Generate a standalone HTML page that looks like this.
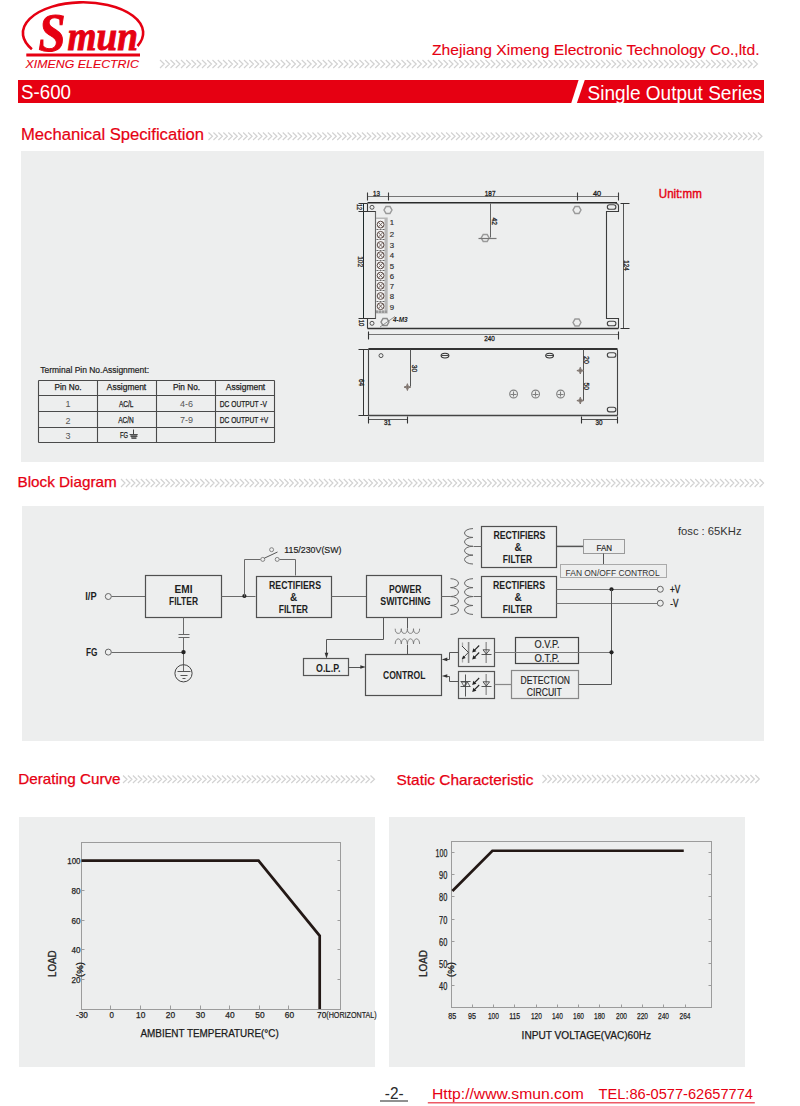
<!DOCTYPE html>
<html><head><meta charset="utf-8"><style>
html,body{margin:0;padding:0;background:#fff;width:800px;height:1106px;overflow:hidden}
svg{display:block}
</style></head><body>
<svg width="800" height="1106" viewBox="0 0 800 1106" font-family="Liberation Sans, sans-serif">
<rect x="21" y="151" width="743" height="311" fill="#edeeee"/>
<rect x="22" y="506" width="742" height="235" fill="#edeeee"/>
<rect x="19" y="817" width="356" height="250" fill="#edeeee"/>
<rect x="389" y="817" width="356" height="250" fill="#edeeee"/>
<path d="M31.9 49.15A60.15 30.7 0 1 1 137.5 46" fill="none" stroke="#e60012" stroke-width="2.6"/>
<text x="38.5" y="50.8" font-size="54" fill="#e60012" text-anchor="start" font-weight="bold" font-style="italic" font-family="Liberation Serif" textLength="27" lengthAdjust="spacingAndGlyphs" stroke="#e60012" stroke-width="1.0" >S</text>
<text x="67.5" y="50.3" font-size="42" fill="#e60012" text-anchor="start" font-weight="bold" font-style="italic" font-family="Liberation Serif" textLength="70.5" lengthAdjust="spacingAndGlyphs" stroke="#e60012" stroke-width="0.9" >mun</text>
<rect x="26.3" y="53.5" width="113.7" height="3" fill="#e60012"/>
<text x="25.6" y="68.1" font-size="11.6" fill="#e60012" text-anchor="start" font-weight="normal" font-style="italic" font-family="Liberation Sans" textLength="113.3" lengthAdjust="spacingAndGlyphs" stroke="#e60012" stroke-width="0.1" >XIMENG ELECTRIC</text>
<text x="432" y="54.9" font-size="15" fill="#e60012" text-anchor="start" font-weight="normal" font-style="normal" font-family="Liberation Sans" textLength="327.5" lengthAdjust="spacingAndGlyphs" stroke="#e60012" stroke-width="0.12" >Zhejiang Ximeng Electronic Technology Co.,ltd.</text>
<path d="M160.00 60.00L164.20 64.00L160.00 68.00M165.25 60.00L169.45 64.00L165.25 68.00M170.50 60.00L174.70 64.00L170.50 68.00M175.75 60.00L179.95 64.00L175.75 68.00M181.00 60.00L185.20 64.00L181.00 68.00M186.25 60.00L190.45 64.00L186.25 68.00M191.50 60.00L195.70 64.00L191.50 68.00M196.75 60.00L200.95 64.00L196.75 68.00M202.00 60.00L206.20 64.00L202.00 68.00M207.25 60.00L211.45 64.00L207.25 68.00M212.50 60.00L216.70 64.00L212.50 68.00M217.75 60.00L221.95 64.00L217.75 68.00M223.00 60.00L227.20 64.00L223.00 68.00M228.25 60.00L232.45 64.00L228.25 68.00M233.50 60.00L237.70 64.00L233.50 68.00M238.75 60.00L242.95 64.00L238.75 68.00M244.00 60.00L248.20 64.00L244.00 68.00M249.25 60.00L253.45 64.00L249.25 68.00M254.50 60.00L258.70 64.00L254.50 68.00M259.75 60.00L263.95 64.00L259.75 68.00M265.00 60.00L269.20 64.00L265.00 68.00M270.25 60.00L274.45 64.00L270.25 68.00M275.50 60.00L279.70 64.00L275.50 68.00M280.75 60.00L284.95 64.00L280.75 68.00M286.00 60.00L290.20 64.00L286.00 68.00M291.25 60.00L295.45 64.00L291.25 68.00M296.50 60.00L300.70 64.00L296.50 68.00M301.75 60.00L305.95 64.00L301.75 68.00M307.00 60.00L311.20 64.00L307.00 68.00M312.25 60.00L316.45 64.00L312.25 68.00M317.50 60.00L321.70 64.00L317.50 68.00M322.75 60.00L326.95 64.00L322.75 68.00M328.00 60.00L332.20 64.00L328.00 68.00M333.25 60.00L337.45 64.00L333.25 68.00M338.50 60.00L342.70 64.00L338.50 68.00M343.75 60.00L347.95 64.00L343.75 68.00M349.00 60.00L353.20 64.00L349.00 68.00M354.25 60.00L358.45 64.00L354.25 68.00M359.50 60.00L363.70 64.00L359.50 68.00M364.75 60.00L368.95 64.00L364.75 68.00M370.00 60.00L374.20 64.00L370.00 68.00M375.25 60.00L379.45 64.00L375.25 68.00M380.50 60.00L384.70 64.00L380.50 68.00M385.75 60.00L389.95 64.00L385.75 68.00M391.00 60.00L395.20 64.00L391.00 68.00M396.25 60.00L400.45 64.00L396.25 68.00M401.50 60.00L405.70 64.00L401.50 68.00M406.75 60.00L410.95 64.00L406.75 68.00M412.00 60.00L416.20 64.00L412.00 68.00M417.25 60.00L421.45 64.00L417.25 68.00M422.50 60.00L426.70 64.00L422.50 68.00M427.75 60.00L431.95 64.00L427.75 68.00M433.00 60.00L437.20 64.00L433.00 68.00M438.25 60.00L442.45 64.00L438.25 68.00M443.50 60.00L447.70 64.00L443.50 68.00M448.75 60.00L452.95 64.00L448.75 68.00M454.00 60.00L458.20 64.00L454.00 68.00M459.25 60.00L463.45 64.00L459.25 68.00M464.50 60.00L468.70 64.00L464.50 68.00M469.75 60.00L473.95 64.00L469.75 68.00M475.00 60.00L479.20 64.00L475.00 68.00M480.25 60.00L484.45 64.00L480.25 68.00M485.50 60.00L489.70 64.00L485.50 68.00M490.75 60.00L494.95 64.00L490.75 68.00M496.00 60.00L500.20 64.00L496.00 68.00M501.25 60.00L505.45 64.00L501.25 68.00M506.50 60.00L510.70 64.00L506.50 68.00M511.75 60.00L515.95 64.00L511.75 68.00M517.00 60.00L521.20 64.00L517.00 68.00M522.25 60.00L526.45 64.00L522.25 68.00M527.50 60.00L531.70 64.00L527.50 68.00M532.75 60.00L536.95 64.00L532.75 68.00M538.00 60.00L542.20 64.00L538.00 68.00M543.25 60.00L547.45 64.00L543.25 68.00M548.50 60.00L552.70 64.00L548.50 68.00M553.75 60.00L557.95 64.00L553.75 68.00M559.00 60.00L563.20 64.00L559.00 68.00M564.25 60.00L568.45 64.00L564.25 68.00M569.50 60.00L573.70 64.00L569.50 68.00M574.75 60.00L578.95 64.00L574.75 68.00M580.00 60.00L584.20 64.00L580.00 68.00M585.25 60.00L589.45 64.00L585.25 68.00M590.50 60.00L594.70 64.00L590.50 68.00M595.75 60.00L599.95 64.00L595.75 68.00M601.00 60.00L605.20 64.00L601.00 68.00M606.25 60.00L610.45 64.00L606.25 68.00M611.50 60.00L615.70 64.00L611.50 68.00M616.75 60.00L620.95 64.00L616.75 68.00M622.00 60.00L626.20 64.00L622.00 68.00M627.25 60.00L631.45 64.00L627.25 68.00M632.50 60.00L636.70 64.00L632.50 68.00M637.75 60.00L641.95 64.00L637.75 68.00M643.00 60.00L647.20 64.00L643.00 68.00M648.25 60.00L652.45 64.00L648.25 68.00M653.50 60.00L657.70 64.00L653.50 68.00M658.75 60.00L662.95 64.00L658.75 68.00M664.00 60.00L668.20 64.00L664.00 68.00M669.25 60.00L673.45 64.00L669.25 68.00M674.50 60.00L678.70 64.00L674.50 68.00M679.75 60.00L683.95 64.00L679.75 68.00M685.00 60.00L689.20 64.00L685.00 68.00M690.25 60.00L694.45 64.00L690.25 68.00M695.50 60.00L699.70 64.00L695.50 68.00M700.75 60.00L704.95 64.00L700.75 68.00M706.00 60.00L710.20 64.00L706.00 68.00M711.25 60.00L715.45 64.00L711.25 68.00M716.50 60.00L720.70 64.00L716.50 68.00M721.75 60.00L725.95 64.00L721.75 68.00M727.00 60.00L731.20 64.00L727.00 68.00M732.25 60.00L736.45 64.00L732.25 68.00M737.50 60.00L741.70 64.00L737.50 68.00M742.75 60.00L746.95 64.00L742.75 68.00M748.00 60.00L752.20 64.00L748.00 68.00M753.25 60.00L757.45 64.00L753.25 68.00" stroke="#d2d2d2" stroke-width="1.2" fill="none"/>
<path d="M18 80H578.6L571.25 103H18Z" fill="#e60012"/>
<path d="M584.75 80H764V103H576.9Z" fill="#e60012"/>
<text x="21" y="98.6" font-size="19.8" fill="#fff" text-anchor="start" font-weight="normal" font-style="normal" font-family="Liberation Sans" textLength="50" lengthAdjust="spacingAndGlyphs" >S-600</text>
<text x="587.6" y="99.8" font-size="19.8" fill="#fff" text-anchor="start" font-weight="normal" font-style="normal" font-family="Liberation Sans" textLength="174.5" lengthAdjust="spacingAndGlyphs" >Single Output Series</text>
<text x="21" y="140" font-size="16.3" fill="#e60012" text-anchor="start" font-weight="normal" font-style="normal" font-family="Liberation Sans" textLength="183" lengthAdjust="spacingAndGlyphs" stroke="#e60012" stroke-width="0.2" >Mechanical Specification</text>
<path d="M208.50 132.50L212.50 136.25L208.50 140.00M213.45 132.50L217.45 136.25L213.45 140.00M218.40 132.50L222.40 136.25L218.40 140.00M223.35 132.50L227.35 136.25L223.35 140.00M228.30 132.50L232.30 136.25L228.30 140.00M233.25 132.50L237.25 136.25L233.25 140.00M238.20 132.50L242.20 136.25L238.20 140.00M243.15 132.50L247.15 136.25L243.15 140.00M248.10 132.50L252.10 136.25L248.10 140.00M253.05 132.50L257.05 136.25L253.05 140.00M258.00 132.50L262.00 136.25L258.00 140.00M262.95 132.50L266.95 136.25L262.95 140.00M267.90 132.50L271.90 136.25L267.90 140.00M272.85 132.50L276.85 136.25L272.85 140.00M277.80 132.50L281.80 136.25L277.80 140.00M282.75 132.50L286.75 136.25L282.75 140.00M287.70 132.50L291.70 136.25L287.70 140.00M292.65 132.50L296.65 136.25L292.65 140.00M297.60 132.50L301.60 136.25L297.60 140.00M302.55 132.50L306.55 136.25L302.55 140.00M307.50 132.50L311.50 136.25L307.50 140.00M312.45 132.50L316.45 136.25L312.45 140.00M317.40 132.50L321.40 136.25L317.40 140.00M322.35 132.50L326.35 136.25L322.35 140.00M327.30 132.50L331.30 136.25L327.30 140.00M332.25 132.50L336.25 136.25L332.25 140.00M337.20 132.50L341.20 136.25L337.20 140.00M342.15 132.50L346.15 136.25L342.15 140.00M347.10 132.50L351.10 136.25L347.10 140.00M352.05 132.50L356.05 136.25L352.05 140.00M357.00 132.50L361.00 136.25L357.00 140.00M361.95 132.50L365.95 136.25L361.95 140.00M366.90 132.50L370.90 136.25L366.90 140.00M371.85 132.50L375.85 136.25L371.85 140.00M376.80 132.50L380.80 136.25L376.80 140.00M381.75 132.50L385.75 136.25L381.75 140.00M386.70 132.50L390.70 136.25L386.70 140.00M391.65 132.50L395.65 136.25L391.65 140.00M396.60 132.50L400.60 136.25L396.60 140.00M401.55 132.50L405.55 136.25L401.55 140.00M406.50 132.50L410.50 136.25L406.50 140.00M411.45 132.50L415.45 136.25L411.45 140.00M416.40 132.50L420.40 136.25L416.40 140.00M421.35 132.50L425.35 136.25L421.35 140.00M426.30 132.50L430.30 136.25L426.30 140.00M431.25 132.50L435.25 136.25L431.25 140.00M436.20 132.50L440.20 136.25L436.20 140.00M441.15 132.50L445.15 136.25L441.15 140.00M446.10 132.50L450.10 136.25L446.10 140.00M451.05 132.50L455.05 136.25L451.05 140.00M456.00 132.50L460.00 136.25L456.00 140.00M460.95 132.50L464.95 136.25L460.95 140.00M465.90 132.50L469.90 136.25L465.90 140.00M470.85 132.50L474.85 136.25L470.85 140.00M475.80 132.50L479.80 136.25L475.80 140.00M480.75 132.50L484.75 136.25L480.75 140.00M485.70 132.50L489.70 136.25L485.70 140.00M490.65 132.50L494.65 136.25L490.65 140.00M495.60 132.50L499.60 136.25L495.60 140.00M500.55 132.50L504.55 136.25L500.55 140.00M505.50 132.50L509.50 136.25L505.50 140.00M510.45 132.50L514.45 136.25L510.45 140.00M515.40 132.50L519.40 136.25L515.40 140.00M520.35 132.50L524.35 136.25L520.35 140.00M525.30 132.50L529.30 136.25L525.30 140.00M530.25 132.50L534.25 136.25L530.25 140.00M535.20 132.50L539.20 136.25L535.20 140.00M540.15 132.50L544.15 136.25L540.15 140.00M545.10 132.50L549.10 136.25L545.10 140.00M550.05 132.50L554.05 136.25L550.05 140.00M555.00 132.50L559.00 136.25L555.00 140.00M559.95 132.50L563.95 136.25L559.95 140.00M564.90 132.50L568.90 136.25L564.90 140.00M569.85 132.50L573.85 136.25L569.85 140.00M574.80 132.50L578.80 136.25L574.80 140.00M579.75 132.50L583.75 136.25L579.75 140.00M584.70 132.50L588.70 136.25L584.70 140.00M589.65 132.50L593.65 136.25L589.65 140.00M594.60 132.50L598.60 136.25L594.60 140.00M599.55 132.50L603.55 136.25L599.55 140.00M604.50 132.50L608.50 136.25L604.50 140.00M609.45 132.50L613.45 136.25L609.45 140.00M614.40 132.50L618.40 136.25L614.40 140.00M619.35 132.50L623.35 136.25L619.35 140.00M624.30 132.50L628.30 136.25L624.30 140.00M629.25 132.50L633.25 136.25L629.25 140.00M634.20 132.50L638.20 136.25L634.20 140.00M639.15 132.50L643.15 136.25L639.15 140.00M644.10 132.50L648.10 136.25L644.10 140.00M649.05 132.50L653.05 136.25L649.05 140.00M654.00 132.50L658.00 136.25L654.00 140.00M658.95 132.50L662.95 136.25L658.95 140.00M663.90 132.50L667.90 136.25L663.90 140.00M668.85 132.50L672.85 136.25L668.85 140.00M673.80 132.50L677.80 136.25L673.80 140.00M678.75 132.50L682.75 136.25L678.75 140.00M683.70 132.50L687.70 136.25L683.70 140.00M688.65 132.50L692.65 136.25L688.65 140.00M693.60 132.50L697.60 136.25L693.60 140.00M698.55 132.50L702.55 136.25L698.55 140.00M703.50 132.50L707.50 136.25L703.50 140.00M708.45 132.50L712.45 136.25L708.45 140.00M713.40 132.50L717.40 136.25L713.40 140.00M718.35 132.50L722.35 136.25L718.35 140.00M723.30 132.50L727.30 136.25L723.30 140.00M728.25 132.50L732.25 136.25L728.25 140.00M733.20 132.50L737.20 136.25L733.20 140.00M738.15 132.50L742.15 136.25L738.15 140.00M743.10 132.50L747.10 136.25L743.10 140.00M748.05 132.50L752.05 136.25L748.05 140.00M753.00 132.50L757.00 136.25L753.00 140.00M757.95 132.50L761.95 136.25L757.95 140.00" stroke="#d2d2d2" stroke-width="1.2" fill="none"/>
<text x="17.5" y="486.9" font-size="14.5" fill="#e60012" text-anchor="start" font-weight="normal" font-style="normal" font-family="Liberation Sans" textLength="99.2" lengthAdjust="spacingAndGlyphs" stroke="#e60012" stroke-width="0.25" >Block Diagram</text>
<path d="M121.00 479.00L125.00 483.00L121.00 487.00M125.95 479.00L129.95 483.00L125.95 487.00M130.90 479.00L134.90 483.00L130.90 487.00M135.85 479.00L139.85 483.00L135.85 487.00M140.80 479.00L144.80 483.00L140.80 487.00M145.75 479.00L149.75 483.00L145.75 487.00M150.70 479.00L154.70 483.00L150.70 487.00M155.65 479.00L159.65 483.00L155.65 487.00M160.60 479.00L164.60 483.00L160.60 487.00M165.55 479.00L169.55 483.00L165.55 487.00M170.50 479.00L174.50 483.00L170.50 487.00M175.45 479.00L179.45 483.00L175.45 487.00M180.40 479.00L184.40 483.00L180.40 487.00M185.35 479.00L189.35 483.00L185.35 487.00M190.30 479.00L194.30 483.00L190.30 487.00M195.25 479.00L199.25 483.00L195.25 487.00M200.20 479.00L204.20 483.00L200.20 487.00M205.15 479.00L209.15 483.00L205.15 487.00M210.10 479.00L214.10 483.00L210.10 487.00M215.05 479.00L219.05 483.00L215.05 487.00M220.00 479.00L224.00 483.00L220.00 487.00M224.95 479.00L228.95 483.00L224.95 487.00M229.90 479.00L233.90 483.00L229.90 487.00M234.85 479.00L238.85 483.00L234.85 487.00M239.80 479.00L243.80 483.00L239.80 487.00M244.75 479.00L248.75 483.00L244.75 487.00M249.70 479.00L253.70 483.00L249.70 487.00M254.65 479.00L258.65 483.00L254.65 487.00M259.60 479.00L263.60 483.00L259.60 487.00M264.55 479.00L268.55 483.00L264.55 487.00M269.50 479.00L273.50 483.00L269.50 487.00M274.45 479.00L278.45 483.00L274.45 487.00M279.40 479.00L283.40 483.00L279.40 487.00M284.35 479.00L288.35 483.00L284.35 487.00M289.30 479.00L293.30 483.00L289.30 487.00M294.25 479.00L298.25 483.00L294.25 487.00M299.20 479.00L303.20 483.00L299.20 487.00M304.15 479.00L308.15 483.00L304.15 487.00M309.10 479.00L313.10 483.00L309.10 487.00M314.05 479.00L318.05 483.00L314.05 487.00M319.00 479.00L323.00 483.00L319.00 487.00M323.95 479.00L327.95 483.00L323.95 487.00M328.90 479.00L332.90 483.00L328.90 487.00M333.85 479.00L337.85 483.00L333.85 487.00M338.80 479.00L342.80 483.00L338.80 487.00M343.75 479.00L347.75 483.00L343.75 487.00M348.70 479.00L352.70 483.00L348.70 487.00M353.65 479.00L357.65 483.00L353.65 487.00M358.60 479.00L362.60 483.00L358.60 487.00M363.55 479.00L367.55 483.00L363.55 487.00M368.50 479.00L372.50 483.00L368.50 487.00M373.45 479.00L377.45 483.00L373.45 487.00M378.40 479.00L382.40 483.00L378.40 487.00M383.35 479.00L387.35 483.00L383.35 487.00M388.30 479.00L392.30 483.00L388.30 487.00M393.25 479.00L397.25 483.00L393.25 487.00M398.20 479.00L402.20 483.00L398.20 487.00M403.15 479.00L407.15 483.00L403.15 487.00M408.10 479.00L412.10 483.00L408.10 487.00M413.05 479.00L417.05 483.00L413.05 487.00M418.00 479.00L422.00 483.00L418.00 487.00M422.95 479.00L426.95 483.00L422.95 487.00M427.90 479.00L431.90 483.00L427.90 487.00M432.85 479.00L436.85 483.00L432.85 487.00M437.80 479.00L441.80 483.00L437.80 487.00M442.75 479.00L446.75 483.00L442.75 487.00M447.70 479.00L451.70 483.00L447.70 487.00M452.65 479.00L456.65 483.00L452.65 487.00M457.60 479.00L461.60 483.00L457.60 487.00M462.55 479.00L466.55 483.00L462.55 487.00M467.50 479.00L471.50 483.00L467.50 487.00M472.45 479.00L476.45 483.00L472.45 487.00M477.40 479.00L481.40 483.00L477.40 487.00M482.35 479.00L486.35 483.00L482.35 487.00M487.30 479.00L491.30 483.00L487.30 487.00M492.25 479.00L496.25 483.00L492.25 487.00M497.20 479.00L501.20 483.00L497.20 487.00M502.15 479.00L506.15 483.00L502.15 487.00M507.10 479.00L511.10 483.00L507.10 487.00M512.05 479.00L516.05 483.00L512.05 487.00M517.00 479.00L521.00 483.00L517.00 487.00M521.95 479.00L525.95 483.00L521.95 487.00M526.90 479.00L530.90 483.00L526.90 487.00M531.85 479.00L535.85 483.00L531.85 487.00M536.80 479.00L540.80 483.00L536.80 487.00M541.75 479.00L545.75 483.00L541.75 487.00M546.70 479.00L550.70 483.00L546.70 487.00M551.65 479.00L555.65 483.00L551.65 487.00M556.60 479.00L560.60 483.00L556.60 487.00M561.55 479.00L565.55 483.00L561.55 487.00M566.50 479.00L570.50 483.00L566.50 487.00M571.45 479.00L575.45 483.00L571.45 487.00M576.40 479.00L580.40 483.00L576.40 487.00M581.35 479.00L585.35 483.00L581.35 487.00M586.30 479.00L590.30 483.00L586.30 487.00M591.25 479.00L595.25 483.00L591.25 487.00M596.20 479.00L600.20 483.00L596.20 487.00M601.15 479.00L605.15 483.00L601.15 487.00M606.10 479.00L610.10 483.00L606.10 487.00M611.05 479.00L615.05 483.00L611.05 487.00M616.00 479.00L620.00 483.00L616.00 487.00M620.95 479.00L624.95 483.00L620.95 487.00M625.90 479.00L629.90 483.00L625.90 487.00M630.85 479.00L634.85 483.00L630.85 487.00M635.80 479.00L639.80 483.00L635.80 487.00M640.75 479.00L644.75 483.00L640.75 487.00M645.70 479.00L649.70 483.00L645.70 487.00M650.65 479.00L654.65 483.00L650.65 487.00M655.60 479.00L659.60 483.00L655.60 487.00M660.55 479.00L664.55 483.00L660.55 487.00M665.50 479.00L669.50 483.00L665.50 487.00M670.45 479.00L674.45 483.00L670.45 487.00M675.40 479.00L679.40 483.00L675.40 487.00M680.35 479.00L684.35 483.00L680.35 487.00M685.30 479.00L689.30 483.00L685.30 487.00M690.25 479.00L694.25 483.00L690.25 487.00M695.20 479.00L699.20 483.00L695.20 487.00M700.15 479.00L704.15 483.00L700.15 487.00M705.10 479.00L709.10 483.00L705.10 487.00M710.05 479.00L714.05 483.00L710.05 487.00M715.00 479.00L719.00 483.00L715.00 487.00M719.95 479.00L723.95 483.00L719.95 487.00M724.90 479.00L728.90 483.00L724.90 487.00M729.85 479.00L733.85 483.00L729.85 487.00M734.80 479.00L738.80 483.00L734.80 487.00M739.75 479.00L743.75 483.00L739.75 487.00M744.70 479.00L748.70 483.00L744.70 487.00M749.65 479.00L753.65 483.00L749.65 487.00M754.60 479.00L758.60 483.00L754.60 487.00M759.55 479.00L763.55 483.00L759.55 487.00" stroke="#d2d2d2" stroke-width="1.2" fill="none"/>
<text x="18.2" y="784.4" font-size="14.5" fill="#e60012" text-anchor="start" font-weight="normal" font-style="normal" font-family="Liberation Sans" textLength="102.4" lengthAdjust="spacingAndGlyphs" stroke="#e60012" stroke-width="0.25" >Derating Curve</text>
<path d="M123.00 775.50L127.00 779.25L123.00 783.00M127.95 775.50L131.95 779.25L127.95 783.00M132.90 775.50L136.90 779.25L132.90 783.00M137.85 775.50L141.85 779.25L137.85 783.00M142.80 775.50L146.80 779.25L142.80 783.00M147.75 775.50L151.75 779.25L147.75 783.00M152.70 775.50L156.70 779.25L152.70 783.00M157.65 775.50L161.65 779.25L157.65 783.00M162.60 775.50L166.60 779.25L162.60 783.00M167.55 775.50L171.55 779.25L167.55 783.00M172.50 775.50L176.50 779.25L172.50 783.00M177.45 775.50L181.45 779.25L177.45 783.00M182.40 775.50L186.40 779.25L182.40 783.00M187.35 775.50L191.35 779.25L187.35 783.00M192.30 775.50L196.30 779.25L192.30 783.00M197.25 775.50L201.25 779.25L197.25 783.00M202.20 775.50L206.20 779.25L202.20 783.00M207.15 775.50L211.15 779.25L207.15 783.00M212.10 775.50L216.10 779.25L212.10 783.00M217.05 775.50L221.05 779.25L217.05 783.00M222.00 775.50L226.00 779.25L222.00 783.00M226.95 775.50L230.95 779.25L226.95 783.00M231.90 775.50L235.90 779.25L231.90 783.00M236.85 775.50L240.85 779.25L236.85 783.00M241.80 775.50L245.80 779.25L241.80 783.00M246.75 775.50L250.75 779.25L246.75 783.00M251.70 775.50L255.70 779.25L251.70 783.00M256.65 775.50L260.65 779.25L256.65 783.00M261.60 775.50L265.60 779.25L261.60 783.00M266.55 775.50L270.55 779.25L266.55 783.00M271.50 775.50L275.50 779.25L271.50 783.00M276.45 775.50L280.45 779.25L276.45 783.00M281.40 775.50L285.40 779.25L281.40 783.00M286.35 775.50L290.35 779.25L286.35 783.00M291.30 775.50L295.30 779.25L291.30 783.00M296.25 775.50L300.25 779.25L296.25 783.00M301.20 775.50L305.20 779.25L301.20 783.00M306.15 775.50L310.15 779.25L306.15 783.00M311.10 775.50L315.10 779.25L311.10 783.00M316.05 775.50L320.05 779.25L316.05 783.00M321.00 775.50L325.00 779.25L321.00 783.00M325.95 775.50L329.95 779.25L325.95 783.00M330.90 775.50L334.90 779.25L330.90 783.00M335.85 775.50L339.85 779.25L335.85 783.00M340.80 775.50L344.80 779.25L340.80 783.00M345.75 775.50L349.75 779.25L345.75 783.00M350.70 775.50L354.70 779.25L350.70 783.00M355.65 775.50L359.65 779.25L355.65 783.00M360.60 775.50L364.60 779.25L360.60 783.00M365.55 775.50L369.55 779.25L365.55 783.00M370.50 775.50L374.50 779.25L370.50 783.00" stroke="#d2d2d2" stroke-width="1.2" fill="none"/>
<text x="396.5" y="785" font-size="15" fill="#e60012" text-anchor="start" font-weight="normal" font-style="normal" font-family="Liberation Sans" textLength="137" lengthAdjust="spacingAndGlyphs" stroke="#e60012" stroke-width="0.25" >Static Characteristic</text>
<path d="M542.50 775.00L546.50 779.00L542.50 783.00M547.45 775.00L551.45 779.00L547.45 783.00M552.40 775.00L556.40 779.00L552.40 783.00M557.35 775.00L561.35 779.00L557.35 783.00M562.30 775.00L566.30 779.00L562.30 783.00M567.25 775.00L571.25 779.00L567.25 783.00M572.20 775.00L576.20 779.00L572.20 783.00M577.15 775.00L581.15 779.00L577.15 783.00M582.10 775.00L586.10 779.00L582.10 783.00M587.05 775.00L591.05 779.00L587.05 783.00M592.00 775.00L596.00 779.00L592.00 783.00M596.95 775.00L600.95 779.00L596.95 783.00M601.90 775.00L605.90 779.00L601.90 783.00M606.85 775.00L610.85 779.00L606.85 783.00M611.80 775.00L615.80 779.00L611.80 783.00M616.75 775.00L620.75 779.00L616.75 783.00M621.70 775.00L625.70 779.00L621.70 783.00M626.65 775.00L630.65 779.00L626.65 783.00M631.60 775.00L635.60 779.00L631.60 783.00M636.55 775.00L640.55 779.00L636.55 783.00M641.50 775.00L645.50 779.00L641.50 783.00M646.45 775.00L650.45 779.00L646.45 783.00M651.40 775.00L655.40 779.00L651.40 783.00M656.35 775.00L660.35 779.00L656.35 783.00M661.30 775.00L665.30 779.00L661.30 783.00M666.25 775.00L670.25 779.00L666.25 783.00M671.20 775.00L675.20 779.00L671.20 783.00M676.15 775.00L680.15 779.00L676.15 783.00M681.10 775.00L685.10 779.00L681.10 783.00M686.05 775.00L690.05 779.00L686.05 783.00M691.00 775.00L695.00 779.00L691.00 783.00M695.95 775.00L699.95 779.00L695.95 783.00M700.90 775.00L704.90 779.00L700.90 783.00M705.85 775.00L709.85 779.00L705.85 783.00M710.80 775.00L714.80 779.00L710.80 783.00M715.75 775.00L719.75 779.00L715.75 783.00M720.70 775.00L724.70 779.00L720.70 783.00M725.65 775.00L729.65 779.00L725.65 783.00M730.60 775.00L734.60 779.00L730.60 783.00M735.55 775.00L739.55 779.00L735.55 783.00M740.50 775.00L744.50 779.00L740.50 783.00M745.45 775.00L749.45 779.00L745.45 783.00M750.40 775.00L754.40 779.00L750.40 783.00M755.35 775.00L759.35 779.00L755.35 783.00" stroke="#d2d2d2" stroke-width="1.2" fill="none"/>
<text x="384.8" y="1099" font-size="15.8" fill="#2a2a2a" text-anchor="start" font-weight="normal" font-style="normal" font-family="Liberation Sans" textLength="18.8" lengthAdjust="spacingAndGlyphs" >-2-</text>
<rect x="380" y="1100.2" width="28" height="1.6" fill="#777"/>
<text x="432" y="1099.4" font-size="15" fill="#e60012" text-anchor="start" font-weight="normal" font-style="normal" font-family="Liberation Sans" textLength="151.75" lengthAdjust="spacingAndGlyphs" >Http://www.smun.com</text>
<text x="598.5" y="1099.4" font-size="15" fill="#e60012" text-anchor="start" font-weight="normal" font-style="normal" font-family="Liberation Sans" textLength="154.5" lengthAdjust="spacingAndGlyphs" >TEL:86-0577-62657774</text>
<rect x="427.8" y="1102" width="327" height="1.5" fill="#ec5a66"/>
<path d="M367.5 196.5H618.5" stroke="#555" stroke-width="0.8"/>
<path d="M367.5 192.5V200.5M388.5 192.5V200.5M577.5 192.5V200.5M618.5 192.5V200.5" stroke="#3c3c3c" stroke-width="1.1"/>
<text x="376.5" y="196" font-size="7" fill="#222" text-anchor="middle" font-weight="normal" textLength="7" lengthAdjust="spacingAndGlyphs" stroke="#222" stroke-width="0.3" >13</text>
<text x="490.1" y="195.8" font-size="7" fill="#222" text-anchor="middle" font-weight="normal" textLength="10.7" lengthAdjust="spacingAndGlyphs" stroke="#222" stroke-width="0.3" >187</text>
<text x="597.1" y="196" font-size="7" fill="#222" text-anchor="middle" font-weight="normal" textLength="8.2" lengthAdjust="spacingAndGlyphs" stroke="#222" stroke-width="0.3" >40</text>
<path d="M367.5 202.8H617" stroke="#2a2a2a" stroke-width="1.4"/>
<path d="M367.5 203.5V211.5H375.5V318.5H367.5V328.5" fill="none" stroke="#3c3c3c" stroke-width="1.1"/>
<path d="M615.5 203.5Q618.5 203.5 618.5 206V211.5H606.5V318.5H618.5V328.5" fill="none" stroke="#3c3c3c" stroke-width="1.1"/>
<path d="M367.5 328.5H618.4" stroke="#333" stroke-width="1.4"/>
<circle cx="372" cy="207.3" r="2" fill="none" stroke="#444" stroke-width="0.9"/>
<circle cx="372" cy="323.3" r="2" fill="none" stroke="#444" stroke-width="0.9"/>
<polygon points="392.00,210.00 390.00,213.46 386.00,213.46 384.00,210.00 386.00,206.54 390.00,206.54" fill="none" stroke="#9a9a9a" stroke-width="1.4"/>
<polygon points="581.00,210.00 579.00,213.46 575.00,213.46 573.00,210.00 575.00,206.54 579.00,206.54" fill="none" stroke="#9a9a9a" stroke-width="1.4"/>
<polygon points="581.00,322.50 579.00,325.96 575.00,325.96 573.00,322.50 575.00,319.04 579.00,319.04" fill="none" stroke="#9a9a9a" stroke-width="1.4"/>
<polygon points="489.20,238.00 487.20,241.46 483.20,241.46 481.20,238.00 483.20,234.54 487.20,234.54" fill="none" stroke="#9a9a9a" stroke-width="1.4"/>
<polygon points="389.00,322.00 387.00,325.46 383.00,325.46 381.00,322.00 383.00,318.54 387.00,318.54" fill="none" stroke="#8a8a8a" stroke-width="1.4"/>
<path d="M380 327L395 316.5" stroke="#777" stroke-width="0.8"/>
<text x="393" y="322" font-size="7.5" fill="#222" text-anchor="start" font-weight="bold" textLength="14.6" lengthAdjust="spacingAndGlyphs" font-style="italic">4-M3</text>
<rect x="607.3" y="204.7" width="8.6" height="4.6" rx="2.3" fill="none" stroke="#444" stroke-width="1.1"/>
<rect x="607.3" y="321.2" width="8.6" height="4.6" rx="2.3" fill="none" stroke="#444" stroke-width="1.1"/>
<rect x="375.5" y="217.5" width="12.2" height="96" fill="#b8b8b8"/>
<rect x="376.2" y="219" width="8.3" height="91.5" fill="#f4f4f4"/>
<circle cx="380.6" cy="224.60" r="3.4" fill="none" stroke="#5e4c47" stroke-width="1"/>
<path d="M378.2 222.10L383 227.10M383 222.10L378.2 227.10" stroke="#5e4c47" stroke-width="0.8"/>
<text x="389.8" y="224.75" font-size="7.8" fill="#2a2a2a" text-anchor="start" font-weight="normal" stroke="#2a2a2a" stroke-width="0.15" >1</text>
<circle cx="380.6" cy="234.80" r="3.4" fill="none" stroke="#5e4c47" stroke-width="1"/>
<path d="M378.2 232.30L383 237.30M383 232.30L378.2 237.30" stroke="#5e4c47" stroke-width="0.8"/>
<path d="M376.5 229.5H385.5" stroke="#555" stroke-width="0.9" stroke-dasharray="2 1"/>
<text x="389.8" y="236.9" font-size="7.8" fill="#2a2a2a" text-anchor="start" font-weight="normal" stroke="#2a2a2a" stroke-width="0.15" >2</text>
<circle cx="380.6" cy="245.00" r="3.4" fill="none" stroke="#5e4c47" stroke-width="1"/>
<path d="M378.2 242.50L383 247.50M383 242.50L378.2 247.50" stroke="#5e4c47" stroke-width="0.8"/>
<path d="M376.5 239.5H385.5" stroke="#555" stroke-width="0.9" stroke-dasharray="2 1"/>
<text x="389.8" y="247.6" font-size="7.8" fill="#2a2a2a" text-anchor="start" font-weight="normal" stroke="#2a2a2a" stroke-width="0.15" >3</text>
<circle cx="380.6" cy="255.20" r="3.4" fill="none" stroke="#5e4c47" stroke-width="1"/>
<path d="M378.2 252.70L383 257.70M383 252.70L378.2 257.70" stroke="#5e4c47" stroke-width="0.8"/>
<path d="M376.5 250.5H385.5" stroke="#555" stroke-width="0.9" stroke-dasharray="2 1"/>
<text x="389.8" y="258.2" font-size="7.8" fill="#2a2a2a" text-anchor="start" font-weight="normal" stroke="#2a2a2a" stroke-width="0.15" >4</text>
<circle cx="380.6" cy="265.40" r="3.4" fill="none" stroke="#5e4c47" stroke-width="1"/>
<path d="M378.2 262.90L383 267.90M383 262.90L378.2 267.90" stroke="#5e4c47" stroke-width="0.8"/>
<path d="M376.5 260.5H385.5" stroke="#555" stroke-width="0.9" stroke-dasharray="2 1"/>
<text x="389.8" y="268.7" font-size="7.8" fill="#2a2a2a" text-anchor="start" font-weight="normal" stroke="#2a2a2a" stroke-width="0.15" >5</text>
<circle cx="380.6" cy="275.60" r="3.4" fill="none" stroke="#5e4c47" stroke-width="1"/>
<path d="M378.2 273.10L383 278.10M383 273.10L378.2 278.10" stroke="#5e4c47" stroke-width="0.8"/>
<path d="M376.5 270.5H385.5" stroke="#555" stroke-width="0.9" stroke-dasharray="2 1"/>
<text x="389.8" y="278.7" font-size="7.8" fill="#2a2a2a" text-anchor="start" font-weight="normal" stroke="#2a2a2a" stroke-width="0.15" >6</text>
<circle cx="380.6" cy="285.80" r="3.4" fill="none" stroke="#5e4c47" stroke-width="1"/>
<path d="M378.2 283.30L383 288.30M383 283.30L378.2 288.30" stroke="#5e4c47" stroke-width="0.8"/>
<path d="M376.5 280.5H385.5" stroke="#555" stroke-width="0.9" stroke-dasharray="2 1"/>
<text x="389.8" y="289" font-size="7.8" fill="#2a2a2a" text-anchor="start" font-weight="normal" stroke="#2a2a2a" stroke-width="0.15" >7</text>
<circle cx="380.6" cy="296.00" r="3.4" fill="none" stroke="#5e4c47" stroke-width="1"/>
<path d="M378.2 293.50L383 298.50M383 293.50L378.2 298.50" stroke="#5e4c47" stroke-width="0.8"/>
<path d="M376.5 290.5H385.5" stroke="#555" stroke-width="0.9" stroke-dasharray="2 1"/>
<text x="389.8" y="299.3" font-size="7.8" fill="#2a2a2a" text-anchor="start" font-weight="normal" stroke="#2a2a2a" stroke-width="0.15" >8</text>
<circle cx="380.6" cy="306.20" r="3.4" fill="none" stroke="#5e4c47" stroke-width="1"/>
<path d="M378.2 303.70L383 308.70M383 303.70L378.2 308.70" stroke="#5e4c47" stroke-width="0.8"/>
<path d="M376.5 301.5H385.5" stroke="#555" stroke-width="0.9" stroke-dasharray="2 1"/>
<text x="389.8" y="309.6" font-size="7.8" fill="#2a2a2a" text-anchor="start" font-weight="normal" stroke="#2a2a2a" stroke-width="0.15" >9</text>
<path d="M376 311.8H387.5" stroke="#999" stroke-width="2.6" stroke-dasharray="2 1"/>
<path d="M375.5 211.5V318.5" stroke="#666" stroke-width="1"/>
<path d="M363.5 203.5V318.5" stroke="#1e2a2a" stroke-width="1"/>
<path d="M358.5 203.5H367.5M358.5 211.5H367.5M358.5 318.5H367.5" stroke="#333" stroke-width="1"/>
<text x="0" y="0" transform="translate(357.3 207.1) rotate(90)" font-size="7.5" fill="#222" text-anchor="middle" font-weight="normal" textLength="6" lengthAdjust="spacingAndGlyphs" stroke="#222" stroke-width="0.3">12</text>
<text x="0" y="0" transform="translate(358.2 261.7) rotate(90)" font-size="7" fill="#333" text-anchor="middle" font-weight="normal" textLength="11" lengthAdjust="spacingAndGlyphs" stroke="#333" stroke-width="0.3">102</text>
<text x="0" y="0" transform="translate(358.5 323) rotate(90)" font-size="7.5" fill="#222" text-anchor="middle" font-weight="normal" textLength="6.5" lengthAdjust="spacingAndGlyphs" stroke="#222" stroke-width="0.3">10</text>
<path d="M623.5 203.5V328.5" stroke="#444" stroke-width="0.9"/>
<path d="M620.5 203.5H629.5M620.5 328.5H629.5" stroke="#333" stroke-width="1"/>
<text x="0" y="0" transform="translate(624.4 265.5) rotate(90)" font-size="6.6" fill="#222" text-anchor="middle" font-weight="normal" textLength="10.5" lengthAdjust="spacingAndGlyphs" stroke="#222" stroke-width="0.3">124</text>
<path d="M368.5 334.5H618.5" stroke="#555" stroke-width="0.8"/>
<path d="M368.5 331.5V339.5M618.5 331.5V339.5" stroke="#333" stroke-width="1.1"/>
<text x="489.5" y="340.5" font-size="7" fill="#222" text-anchor="middle" font-weight="normal" textLength="10.5" lengthAdjust="spacingAndGlyphs" stroke="#222" stroke-width="0.3" >240</text>
<path d="M490.5 203.5V237.5" stroke="#555" stroke-width="0.9"/>
<path d="M478.5 238.5H496.5" stroke="#777" stroke-width="1.2"/>
<text x="0" y="0" transform="translate(491.9 221.25) rotate(90)" font-size="7.5" fill="#222" text-anchor="middle" font-weight="normal" textLength="7.5" lengthAdjust="spacingAndGlyphs" stroke="#222" stroke-width="0.3">42</text>
<path d="M368.4 349H617.5" stroke="#333" stroke-width="1.8"/>
<path d="M368.5 349.5V415.5M617.5 349.5V415.5" stroke="#444" stroke-width="1.1"/>
<path d="M368.5 415.5H617.5" stroke="#444" stroke-width="1.3"/>
<path d="M363.5 349.5V415.5M358.5 349.5H368.5M358.5 415.5H368.5" stroke="#333" stroke-width="1"/>
<text x="0" y="0" transform="translate(358.5 382.5) rotate(90)" font-size="7.5" fill="#222" text-anchor="middle" font-weight="normal" textLength="7" lengthAdjust="spacingAndGlyphs" stroke="#222" stroke-width="0.3">64</text>
<circle cx="381" cy="355.6" r="2" fill="none" stroke="#444" stroke-width="0.9"/>
<ellipse cx="445" cy="355.6" rx="3.9" ry="2.4" fill="none" stroke="#333" stroke-width="1.1"/>
<path d="M441.5 355.5H448.5" stroke="#333" stroke-width="0.9"/>
<ellipse cx="549.6" cy="355.6" rx="3.9" ry="2.4" fill="none" stroke="#333" stroke-width="1.1"/>
<path d="M546.5 355.5H553.5" stroke="#333" stroke-width="0.9"/>
<rect x="607.3" y="352.7" width="8.6" height="4.6" rx="2.3" fill="none" stroke="#444" stroke-width="1.1"/>
<rect x="607.3" y="407.3" width="8.6" height="4.6" rx="2.3" fill="none" stroke="#444" stroke-width="1.1"/>
<path d="M410.5 349.5V386.5" stroke="#444" stroke-width="0.9"/>
<path d="M583.5 349.5V400.5" stroke="#444" stroke-width="0.9"/>
<path d="M404.0 387.1Q407.4 387.1 407.4 383.70000000000005Q407.4 387.1 410.79999999999995 387.1Q407.4 387.1 407.4 390.5Q407.4 387.1 404.0 387.1Z" fill="#7d726c" stroke="#7d726c" stroke-width="1"/>
<path d="M576.9 370.6Q580.3 370.6 580.3 367.20000000000005Q580.3 370.6 583.6999999999999 370.6Q580.3 370.6 580.3 374.0Q580.3 370.6 576.9 370.6Z" fill="#7d726c" stroke="#7d726c" stroke-width="1"/>
<path d="M576.9 400.6Q580.3 400.6 580.3 397.20000000000005Q580.3 400.6 583.6999999999999 400.6Q580.3 400.6 580.3 404.0Q580.3 400.6 576.9 400.6Z" fill="#7d726c" stroke="#7d726c" stroke-width="1"/>
<text x="0" y="0" transform="translate(411.5 368.4) rotate(90)" font-size="7.5" fill="#222" text-anchor="middle" font-weight="normal" textLength="7.5" lengthAdjust="spacingAndGlyphs" stroke="#222" stroke-width="0.3">30</text>
<text x="0" y="0" transform="translate(584.4 359.9) rotate(90)" font-size="7.5" fill="#222" text-anchor="middle" font-weight="normal" textLength="7.9" lengthAdjust="spacingAndGlyphs" stroke="#222" stroke-width="0.3">20</text>
<text x="0" y="0" transform="translate(583.8 386.3) rotate(90)" font-size="7.5" fill="#222" text-anchor="middle" font-weight="normal" textLength="7.4" lengthAdjust="spacingAndGlyphs" stroke="#222" stroke-width="0.3">50</text>
<circle cx="513.6" cy="394" r="3.9" fill="none" stroke="#808080" stroke-width="1.1"/>
<path d="M510.5 394.5H516.5M513.5 391.5V396.5" stroke="#808080" stroke-width="1.1"/>
<circle cx="535.6" cy="394" r="3.9" fill="none" stroke="#808080" stroke-width="1.1"/>
<path d="M532.5 394.5H538.5M535.5 391.5V396.5" stroke="#808080" stroke-width="1.1"/>
<circle cx="560.6" cy="394" r="3.9" fill="none" stroke="#808080" stroke-width="1.1"/>
<path d="M557.5 394.5H563.5M560.5 391.5V396.5" stroke="#808080" stroke-width="1.1"/>
<path d="M368.5 419.5H407.5M581.5 419.5H617.5" stroke="#444" stroke-width="0.9"/>
<path d="M368.5 416.5V423.5M407.5 416.5V423.5M581.5 416.5V423.5M617.5 416.5V423.5" stroke="#333" stroke-width="1.1"/>
<text x="387.4" y="424.8" font-size="7" fill="#222" text-anchor="middle" font-weight="normal" textLength="7" lengthAdjust="spacingAndGlyphs" stroke="#222" stroke-width="0.3" >31</text>
<text x="599" y="424.5" font-size="7" fill="#222" text-anchor="middle" font-weight="normal" textLength="7" lengthAdjust="spacingAndGlyphs" stroke="#222" stroke-width="0.3" >30</text>
<text x="658.8" y="197.8" font-size="12.3" fill="#e60012" text-anchor="start" font-weight="normal" textLength="43" lengthAdjust="spacingAndGlyphs" stroke="#e60012" stroke-width="0.4" >Unit:mm</text>
<text x="40.3" y="373.1" font-size="8.5" fill="#222" text-anchor="start" font-weight="normal" textLength="108.7" lengthAdjust="spacingAndGlyphs"  stroke="#222" stroke-width="0.2">Terminal Pin No.Assignment:</text>
<path d="M38.5 380.5H274.5M38.5 395.5H274.5M38.5 411.5H274.5M38.5 427.5H274.5M38.5 442.5H274.5M38.5 380.5V442.5M97.5 380.5V442.5M156.5 380.5V442.5M215.5 380.5V442.5M274.5 380.5V442.5" stroke="#4a4a4a" stroke-width="1.1" fill="none"/>
<text x="68" y="389.6" font-size="8.3" fill="#222" text-anchor="middle" font-weight="normal" textLength="27" lengthAdjust="spacingAndGlyphs"  stroke="#222" stroke-width="0.25">Pin No.</text>
<text x="126.5" y="389.6" font-size="8.3" fill="#222" text-anchor="middle" font-weight="normal" textLength="39.4" lengthAdjust="spacingAndGlyphs"  stroke="#222" stroke-width="0.25">Assigment</text>
<text x="186.5" y="389.6" font-size="8.3" fill="#222" text-anchor="middle" font-weight="normal" textLength="27" lengthAdjust="spacingAndGlyphs"  stroke="#222" stroke-width="0.25">Pin No.</text>
<text x="245.5" y="389.6" font-size="8.3" fill="#222" text-anchor="middle" font-weight="normal" textLength="39.4" lengthAdjust="spacingAndGlyphs"  stroke="#222" stroke-width="0.25">Assigment</text>
<text x="68" y="407" font-size="9" fill="#555" text-anchor="middle" font-weight="normal" >1</text>
<text x="68" y="423.5" font-size="9" fill="#555" text-anchor="middle" font-weight="normal" >2</text>
<text x="68" y="438.5" font-size="9" fill="#555" text-anchor="middle" font-weight="normal" >3</text>
<text x="126.2" y="406.7" font-size="8.3" fill="#222" text-anchor="middle" font-weight="normal" textLength="14.5" lengthAdjust="spacingAndGlyphs"  stroke="#222" stroke-width="0.25">AC/L</text>
<text x="126" y="422.9" font-size="8.3" fill="#222" text-anchor="middle" font-weight="normal" textLength="15.7" lengthAdjust="spacingAndGlyphs"  stroke="#222" stroke-width="0.25">AC/N</text>
<text x="124.1" y="437.7" font-size="8.3" fill="#222" text-anchor="middle" font-weight="normal" textLength="8.2" lengthAdjust="spacingAndGlyphs"  stroke="#222" stroke-width="0.25">FG</text>
<path d="M133.5 429.5V434.5" stroke="#333" stroke-width="0.9"/>
<path d="M129.8 434H137.9L136 438.6H131.6Z" fill="#777"/>
<path d="M129.5 434.5H137.5M130.5 436.5H137.5M131.5 438.5H136.5" stroke="#444" stroke-width="0.8"/>
<text x="186.5" y="406.5" font-size="9" fill="#555" text-anchor="middle" font-weight="normal" textLength="13" lengthAdjust="spacingAndGlyphs" >4-6</text>
<text x="186.5" y="423" font-size="9" fill="#555" text-anchor="middle" font-weight="normal" textLength="13" lengthAdjust="spacingAndGlyphs" >7-9</text>
<text x="219.8" y="406.8" font-size="8.5" fill="#222" text-anchor="start" font-weight="normal" textLength="47.1" lengthAdjust="spacingAndGlyphs"  stroke="#222" stroke-width="0.25">DC OUTPUT -V</text>
<text x="219.8" y="423.2" font-size="8.5" fill="#222" text-anchor="start" font-weight="normal" textLength="48.4" lengthAdjust="spacingAndGlyphs"  stroke="#222" stroke-width="0.25">DC OUTPUT +V</text>
<text x="85.3" y="600.4" font-size="10" fill="#1e1e1e" text-anchor="start" font-weight="bold" textLength="11.3" lengthAdjust="spacingAndGlyphs" >I/P</text>
<text x="86" y="655.6" font-size="10" fill="#1e1e1e" text-anchor="start" font-weight="bold" textLength="11.5" lengthAdjust="spacingAndGlyphs" >FG</text>
<circle cx="108.3" cy="596.5" r="3.0" fill="none" stroke="#666" stroke-width="1.0"/>
<circle cx="108.3" cy="652.1" r="3.0" fill="none" stroke="#666" stroke-width="1.0"/>
<path d="M111.5 596.5H145.5" fill="none" stroke="#6a6a6a" stroke-width="1.0"/>
<path d="M111.5 652.5H183.5" fill="none" stroke="#6a6a6a" stroke-width="1.0"/>
<rect x="145.5" y="575.5" width="76" height="42" fill="none" stroke="#505050" stroke-width="1.2"/>
<text x="183.5" y="593" font-size="10" fill="#1e1e1e" text-anchor="middle" font-weight="bold" textLength="18" lengthAdjust="spacingAndGlyphs" >EMI</text>
<text x="183.5" y="604.8" font-size="10" fill="#1e1e1e" text-anchor="middle" font-weight="bold" textLength="29" lengthAdjust="spacingAndGlyphs" >FILTER</text>
<path d="M183.5 617.5V634.5M183.5 637.5V671.5" fill="none" stroke="#6a6a6a" stroke-width="1.0"/>
<path d="M178.5 634.5H189.5M178.5 637.5H189.5" fill="none" stroke="#666" stroke-width="1.1"/>
<circle cx="183.5" cy="652.1" r="2.2" fill="#222"/>
<circle cx="183.5" cy="673.3" r="8.6" fill="none" stroke="#444" stroke-width="1.0"/>
<path d="M177.5 671.5H190.5M180.5 675.5H187.5M182.5 678.5H185.5" fill="none" stroke="#555" stroke-width="1.0"/>
<path d="M221.5 596.5H255.5" fill="none" stroke="#6a6a6a" stroke-width="1.0"/>
<circle cx="244.4" cy="596" r="2.1" fill="#222"/>
<path d="M244.5 596.5V559.5H260.5" fill="none" stroke="#6a6a6a" stroke-width="1.0"/>
<circle cx="262.75" cy="559.4" r="2.0" fill="none" stroke="#777" stroke-width="0.9"/>
<circle cx="271.6" cy="549.7" r="2.0" fill="none" stroke="#777" stroke-width="0.9"/>
<circle cx="277.2" cy="559.4" r="2.0" fill="none" stroke="#777" stroke-width="0.9"/>
<path d="M264.3 558.2L277.5 552" fill="none" stroke="#555" stroke-width="1.0"/>
<path d="M279.5 559.5H295.5V575.5" fill="none" stroke="#6a6a6a" stroke-width="1.0"/>
<text x="284.3" y="552.5" font-size="9.6" fill="#1e1e1e" text-anchor="start" font-weight="normal" textLength="57.2" lengthAdjust="spacingAndGlyphs" stroke="#1e1e1e" stroke-width="0.2" >115/230V(SW)</text>
<rect x="256.5" y="576.5" width="75" height="41" fill="none" stroke="#505050" stroke-width="1.2"/>
<text x="295" y="589" font-size="10" fill="#1e1e1e" text-anchor="middle" font-weight="bold" textLength="52" lengthAdjust="spacingAndGlyphs" >RECTIFIERS</text>
<text x="293.5" y="601.2" font-size="10" fill="#1e1e1e" text-anchor="middle" font-weight="bold" >&amp;</text>
<text x="293.4" y="613" font-size="10" fill="#1e1e1e" text-anchor="middle" font-weight="bold" textLength="29.3" lengthAdjust="spacingAndGlyphs" >FILTER</text>
<path d="M331.5 596.5H366.5" fill="none" stroke="#6a6a6a" stroke-width="1.0"/>
<rect x="366.5" y="575.5" width="75" height="42" fill="none" stroke="#505050" stroke-width="1.2"/>
<text x="405.2" y="592.5" font-size="10" fill="#1e1e1e" text-anchor="middle" font-weight="bold" textLength="32.5" lengthAdjust="spacingAndGlyphs" >POWER</text>
<text x="405.5" y="604.7" font-size="10" fill="#1e1e1e" text-anchor="middle" font-weight="bold" textLength="50.4" lengthAdjust="spacingAndGlyphs" >SWITCHING</text>
<path d="M441.5 596.5H450.5" fill="none" stroke="#6a6a6a" stroke-width="1.0"/>
<path d="M450.5 578.7A8.0 4.465 0 0 1 450.5 587.63A8.0 4.465 0 0 1 450.5 596.56A8.0 4.465 0 0 1 450.5 605.49A8.0 4.465 0 0 1 450.5 614.42" fill="none" stroke="#666" stroke-width="1.0"/>
<path d="M473 578.7A8.5 4.465 0 0 0 473 587.63A8.5 4.465 0 0 0 473 596.56A8.5 4.465 0 0 0 473 605.49A8.5 4.465 0 0 0 473 614.42" fill="none" stroke="#666" stroke-width="1.0"/>
<path d="M473.5 596.5H481.5" fill="none" stroke="#6a6a6a" stroke-width="1.0"/>
<rect x="481.5" y="576.5" width="75" height="41" fill="none" stroke="#505050" stroke-width="1.2"/>
<text x="519" y="589" font-size="10" fill="#1e1e1e" text-anchor="middle" font-weight="bold" textLength="52" lengthAdjust="spacingAndGlyphs" >RECTIFIERS</text>
<text x="518" y="600.8" font-size="10" fill="#1e1e1e" text-anchor="middle" font-weight="bold" >&amp;</text>
<text x="517.5" y="613" font-size="10" fill="#1e1e1e" text-anchor="middle" font-weight="bold" textLength="29.3" lengthAdjust="spacingAndGlyphs" >FILTER</text>
<rect x="481.5" y="526.5" width="75" height="41" fill="none" stroke="#505050" stroke-width="1.2"/>
<text x="519.4" y="539" font-size="10" fill="#1e1e1e" text-anchor="middle" font-weight="bold" textLength="52" lengthAdjust="spacingAndGlyphs" >RECTIFIERS</text>
<text x="518" y="551" font-size="10" fill="#1e1e1e" text-anchor="middle" font-weight="bold" >&amp;</text>
<text x="517.5" y="563" font-size="10" fill="#1e1e1e" text-anchor="middle" font-weight="bold" textLength="29.3" lengthAdjust="spacingAndGlyphs" >FILTER</text>
<path d="M473 528.6A8.5 4.425 0 0 0 473 537.45A8.5 4.425 0 0 0 473 546.30A8.5 4.425 0 0 0 473 555.15A8.5 4.425 0 0 0 473 564.00" fill="none" stroke="#666" stroke-width="1.0"/>
<path d="M473.5 546.5H481.5" fill="none" stroke="#6a6a6a" stroke-width="1.0"/>
<path d="M556.6 546.4H583.8" fill="none" stroke="#555" stroke-width="1.5"/>
<rect x="583.5" y="539.5" width="41" height="14" fill="none" stroke="#9a9a9a" stroke-width="1.0"/>
<text x="604.3" y="550.5" font-size="8.5" fill="#222" text-anchor="middle" font-weight="normal" textLength="15.5" lengthAdjust="spacingAndGlyphs" stroke="#222" stroke-width="0.15" >FAN</text>
<path d="M603.5 553.5V564.5" fill="none" stroke="#555" stroke-width="1.0"/>
<rect x="560.5" y="564.5" width="106" height="13" fill="none" stroke="#aaaaaa" stroke-width="1.0"/>
<text x="565.6" y="575.6" font-size="8.5" fill="#333" text-anchor="start" font-weight="normal" textLength="94" lengthAdjust="spacingAndGlyphs" >FAN ON/OFF CONTROL</text>
<path d="M556.5 589.5H657.5M556.5 603.5H657.5" fill="none" stroke="#777" stroke-width="1.0"/>
<circle cx="660.3" cy="589.25" r="3.0" fill="none" stroke="#666" stroke-width="1.0"/>
<circle cx="660.3" cy="603.2" r="3.0" fill="none" stroke="#666" stroke-width="1.0"/>
<text x="670" y="592.6" font-size="10" fill="#1e1e1e" text-anchor="start" font-weight="normal" textLength="10.2" lengthAdjust="spacingAndGlyphs" stroke="#1e1e1e" stroke-width="0.3" >+V</text>
<text x="670.3" y="607" font-size="10" fill="#1e1e1e" text-anchor="start" font-weight="normal" textLength="8.2" lengthAdjust="spacingAndGlyphs" stroke="#1e1e1e" stroke-width="0.3" >-V</text>
<circle cx="611.5" cy="589.25" r="2.1" fill="#222"/>
<path d="M611.5 589.5V684.5H578.5" fill="none" stroke="#555" stroke-width="1.0"/>
<text x="677.9" y="535.25" font-size="11" fill="#333" text-anchor="start" font-weight="normal" textLength="63.7" lengthAdjust="spacingAndGlyphs" >fosc : 65KHz</text>
<path d="M383.5 617.5V639.5H326.5V655.5" fill="none" stroke="#555" stroke-width="1.0"/>
<path d="M326.5 658.4L324.7 652.8H328.3Z" fill="#333"/>
<rect x="303.5" y="658.5" width="45" height="17" fill="none" stroke="#555" stroke-width="1.2"/>
<text x="328.2" y="671.6" font-size="10" fill="#1e1e1e" text-anchor="middle" font-weight="bold" textLength="24.3" lengthAdjust="spacingAndGlyphs" >O.L.P.</text>
<path d="M348.5 667.5H361.5" fill="none" stroke="#555" stroke-width="1.0"/>
<path d="M365.9 667L360.3 665.2V668.8Z" fill="#333"/>
<rect x="365.5" y="654.5" width="76" height="41" fill="none" stroke="#505050" stroke-width="1.2"/>
<text x="404.2" y="679" font-size="10" fill="#1e1e1e" text-anchor="middle" font-weight="bold" textLength="42.4" lengthAdjust="spacingAndGlyphs" >CONTROL</text>
<path d="M407.5 617.5V628.5" fill="none" stroke="#555" stroke-width="1.0"/>
<path d="M395.2 628.7A3.05 4.7 0 0 0 401.30 628.7A3.05 4.7 0 0 0 407.40 628.7A3.05 4.7 0 0 0 413.50 628.7A3.05 4.7 0 0 0 419.60 628.7" fill="none" stroke="#777" stroke-width="0.9"/>
<path d="M395.2 644A3.05 5.2 0 0 1 401.30 644A3.05 5.2 0 0 1 407.40 644A3.05 5.2 0 0 1 413.50 644A3.05 5.2 0 0 1 419.60 644" fill="none" stroke="#777" stroke-width="0.9"/>
<path d="M407.5 644.5V654.5" fill="none" stroke="#555" stroke-width="1.0"/>
<path d="M458.5 652.5H449.5V659.5H446.5" fill="none" stroke="#555" stroke-width="1.0"/>
<path d="M441.8 659.4L447.3 657.6L447.3 661.1999999999999Z" fill="#333"/>
<path d="M458.5 681.5H449.5V676.5H446.5" fill="none" stroke="#555" stroke-width="1.0"/>
<path d="M441.8 676L447.3 674.2L447.3 677.8Z" fill="#333"/>
<rect x="458.5" y="638.5" width="36" height="28" fill="none" stroke="#555" stroke-width="1.2"/>
<rect x="458.5" y="671.5" width="36" height="27" fill="none" stroke="#555" stroke-width="1.2"/>
<path d="M468.6 642V663" fill="none" stroke="#8a8a8a" stroke-width="1.6"/>
<path d="M462.5 642.5V646.5M462.5 657.5V662.5" fill="none" stroke="#aaa" stroke-width="1.3"/>
<path d="M462 646L468.4 652.4L462.5 658.5" fill="none" stroke="#333" stroke-width="0.9"/>
<path d="M462 659.3L463.2 655.6L465.7 658.1Z" fill="#222"/>
<path d="M479.2 645.5L473.59999999999997 651.1" fill="none" stroke="#222" stroke-width="1.1"/>
<path d="M472.2 652.5L473.4 648.3L476.4 651.3Z" fill="#222"/>
<path d="M479.2 652.5L473.59999999999997 658.1" fill="none" stroke="#222" stroke-width="1.1"/>
<path d="M472.2 659.5L473.4 655.3L476.4 658.3Z" fill="#222"/>
<path d="M486.2 642V663" fill="none" stroke="#a0a0a0" stroke-width="1.6"/>
<path d="M483 649.8H489.6L486.3 654Z" fill="none" stroke="#444" stroke-width="0.9"/>
<path d="M481.5 654.5H491.5" fill="none" stroke="#444" stroke-width="0.9"/>
<path d="M465.5 674.5V696.5" fill="none" stroke="#444" stroke-width="0.9"/>
<path d="M460.5 681.5H470.5M460.5 686.5H470.5" fill="none" stroke="#444" stroke-width="0.9"/>
<path d="M461.5 682L464 686.5L466.5 682Z M465 686.5L467.5 682L470 686.5" fill="none" stroke="#444" stroke-width="0.8"/>
<path d="M479.2 678L473.59999999999997 683.6" fill="none" stroke="#222" stroke-width="1.1"/>
<path d="M472.2 685L473.4 680.8L476.4 683.8Z" fill="#222"/>
<path d="M479.2 685L473.59999999999997 690.6" fill="none" stroke="#222" stroke-width="1.1"/>
<path d="M472.2 692L473.4 687.8L476.4 690.8Z" fill="#222"/>
<path d="M486.2 674V695" fill="none" stroke="#a0a0a0" stroke-width="1.6"/>
<path d="M483 681.8H489.6L486.3 686Z" fill="none" stroke="#444" stroke-width="0.9"/>
<path d="M481.5 686.5H491.5" fill="none" stroke="#444" stroke-width="0.9"/>
<rect x="515.5" y="637.5" width="63" height="26" fill="none" stroke="#444" stroke-width="1.2"/>
<path d="M494.5 652.5H611.5" fill="none" stroke="#777" stroke-width="1.0"/>
<circle cx="611.5" cy="652.3" r="2.1" fill="#222"/>
<text x="547" y="648.3" font-size="10" fill="#222" text-anchor="middle" font-weight="normal" textLength="25" lengthAdjust="spacingAndGlyphs" stroke="#222" stroke-width="0.15" >O.V.P.</text>
<text x="547" y="661.8" font-size="10" fill="#222" text-anchor="middle" font-weight="normal" textLength="25" lengthAdjust="spacingAndGlyphs" stroke="#222" stroke-width="0.15" >O.T.P.</text>
<rect x="511.5" y="670.5" width="67" height="28" fill="none" stroke="#888" stroke-width="1.2"/>
<path d="M494.5 684.5H511.5" fill="none" stroke="#888" stroke-width="1.2"/>
<text x="545.3" y="683.9" font-size="10" fill="#222" text-anchor="middle" font-weight="normal" textLength="49.4" lengthAdjust="spacingAndGlyphs" stroke="#222" stroke-width="0.15" >DETECTION</text>
<text x="544.3" y="695.5" font-size="10" fill="#222" text-anchor="middle" font-weight="normal" textLength="35" lengthAdjust="spacingAndGlyphs" stroke="#222" stroke-width="0.15" >CIRCUIT</text>
<rect x="81.5" y="842.5" width="259" height="167" fill="none" stroke="#9c9c9c" stroke-width="1"/>
<path d="M81.5 860.5H84.5M337.5 860.5H340.5M81.5 890.5H84.5M337.5 890.5H340.5M81.5 920.5H84.5M337.5 920.5H340.5M81.5 949.5H84.5M337.5 949.5H340.5M81.5 979.5H84.5M337.5 979.5H340.5M110.5 1005.5V1009.5M140.5 1005.5V1009.5M170.5 1005.5V1009.5M200.5 1005.5V1009.5M229.5 1005.5V1009.5M259.5 1005.5V1009.5M288.5 1005.5V1009.5" stroke="#9c9c9c" stroke-width="1"/>
<text x="80.5" y="864.3000000000001" font-size="8.7" fill="#222" text-anchor="end" font-weight="normal" textLength="13.25" lengthAdjust="spacingAndGlyphs" stroke="#222" stroke-width="0.25" >100</text>
<text x="80.5" y="894.1" font-size="8.7" fill="#222" text-anchor="end" font-weight="normal" textLength="9" lengthAdjust="spacingAndGlyphs" stroke="#222" stroke-width="0.25" >80</text>
<text x="80.5" y="924.1" font-size="8.7" fill="#222" text-anchor="end" font-weight="normal" textLength="9" lengthAdjust="spacingAndGlyphs" stroke="#222" stroke-width="0.25" >60</text>
<text x="80.5" y="953.3000000000001" font-size="8.7" fill="#222" text-anchor="end" font-weight="normal" textLength="9" lengthAdjust="spacingAndGlyphs" stroke="#222" stroke-width="0.25" >40</text>
<text x="80.5" y="983.1" font-size="8.7" fill="#222" text-anchor="end" font-weight="normal" textLength="9" lengthAdjust="spacingAndGlyphs" stroke="#222" stroke-width="0.25" >20</text>
<text x="82" y="1018.3" font-size="8.5" fill="#222" text-anchor="middle" font-weight="normal" textLength="11.9" lengthAdjust="spacingAndGlyphs" stroke="#222" stroke-width="0.25" >-30</text>
<text x="111.7" y="1018.3" font-size="8.5" fill="#222" text-anchor="middle" font-weight="normal" textLength="4.4" lengthAdjust="spacingAndGlyphs" stroke="#222" stroke-width="0.25" >0</text>
<text x="140.75" y="1018.3" font-size="8.5" fill="#222" text-anchor="middle" font-weight="normal" textLength="9.3" lengthAdjust="spacingAndGlyphs" stroke="#222" stroke-width="0.25" >10</text>
<text x="170.5" y="1018.3" font-size="8.5" fill="#222" text-anchor="middle" font-weight="normal" textLength="9.3" lengthAdjust="spacingAndGlyphs" stroke="#222" stroke-width="0.25" >20</text>
<text x="200.5" y="1018.3" font-size="8.5" fill="#222" text-anchor="middle" font-weight="normal" textLength="9.3" lengthAdjust="spacingAndGlyphs" stroke="#222" stroke-width="0.25" >30</text>
<text x="230" y="1018.3" font-size="8.5" fill="#222" text-anchor="middle" font-weight="normal" textLength="9.3" lengthAdjust="spacingAndGlyphs" stroke="#222" stroke-width="0.25" >40</text>
<text x="260" y="1018.3" font-size="8.5" fill="#222" text-anchor="middle" font-weight="normal" textLength="9.3" lengthAdjust="spacingAndGlyphs" stroke="#222" stroke-width="0.25" >50</text>
<text x="289.5" y="1018.3" font-size="8.5" fill="#222" text-anchor="middle" font-weight="normal" textLength="9.3" lengthAdjust="spacingAndGlyphs" stroke="#222" stroke-width="0.25" >60</text>
<text x="317" y="1018.3" font-size="8.5" fill="#222" text-anchor="start" font-weight="normal" textLength="9.3" lengthAdjust="spacingAndGlyphs" stroke="#222" stroke-width="0.25" >70</text>
<text x="326.3" y="1018.3" font-size="8.5" fill="#222" text-anchor="start" font-weight="normal" textLength="50.3" lengthAdjust="spacingAndGlyphs" stroke="#222" stroke-width="0.2" >(HORIZONTAL)</text>
<path d="M81.5 860.6H258.5L319.7 935.8V1009" fill="none" stroke="#231815" stroke-width="2.7" stroke-linejoin="miter"/>
<text x="0" y="0" transform="translate(56 963.7) rotate(-90)" font-size="10" fill="#222" text-anchor="middle" font-weight="normal" textLength="26.6" lengthAdjust="spacingAndGlyphs" stroke="#222" stroke-width="0.3">LOAD</text>
<text x="0" y="0" transform="translate(83.2 969.5) rotate(-90)" font-size="9" fill="#222" text-anchor="middle" font-weight="normal" textLength="15" lengthAdjust="spacingAndGlyphs" stroke="#222" stroke-width="0.3">(%)</text>
<text x="140.5" y="1036.5" font-size="10" fill="#1a1a1a" text-anchor="start" font-weight="normal" textLength="138.2" lengthAdjust="spacingAndGlyphs" stroke="#1a1a1a" stroke-width="0.25" >AMBIENT TEMPERATURE(&#176;C)</text>
<rect x="451.5" y="841.5" width="260" height="166" fill="none" stroke="#9c9c9c" stroke-width="1"/>
<path d="M451.5 852.5H454.5M708.5 852.5H711.5M451.5 874.5H454.5M708.5 874.5H711.5M451.5 896.5H454.5M708.5 896.5H711.5M451.5 919.5H454.5M708.5 919.5H711.5M451.5 941.5H454.5M708.5 941.5H711.5M451.5 963.5H454.5M708.5 963.5H711.5M451.5 985.5H454.5M708.5 985.5H711.5M472.5 1004.5V1007.5M493.5 1004.5V1007.5M514.5 1004.5V1007.5M536.5 1004.5V1007.5M557.5 1004.5V1007.5M578.5 1004.5V1007.5M599.5 1004.5V1007.5M621.5 1004.5V1007.5M642.5 1004.5V1007.5M663.5 1004.5V1007.5M685.5 1004.5V1007.5" stroke="#9c9c9c" stroke-width="1"/>
<text x="447.3" y="856.9" font-size="10" fill="#222" text-anchor="end" font-weight="normal" textLength="11.75" lengthAdjust="spacingAndGlyphs" stroke="#222" stroke-width="0.25" >100</text>
<text x="447.3" y="879.1" font-size="10" fill="#222" text-anchor="end" font-weight="normal" textLength="8.25" lengthAdjust="spacingAndGlyphs" stroke="#222" stroke-width="0.25" >90</text>
<text x="447.3" y="901.4" font-size="10" fill="#222" text-anchor="end" font-weight="normal" textLength="8.25" lengthAdjust="spacingAndGlyphs" stroke="#222" stroke-width="0.25" >80</text>
<text x="447.3" y="923.7" font-size="10" fill="#222" text-anchor="end" font-weight="normal" textLength="8.25" lengthAdjust="spacingAndGlyphs" stroke="#222" stroke-width="0.25" >70</text>
<text x="447.3" y="945.9" font-size="10" fill="#222" text-anchor="end" font-weight="normal" textLength="8.25" lengthAdjust="spacingAndGlyphs" stroke="#222" stroke-width="0.25" >60</text>
<text x="447.3" y="968.1" font-size="10" fill="#222" text-anchor="end" font-weight="normal" textLength="8.25" lengthAdjust="spacingAndGlyphs" stroke="#222" stroke-width="0.25" >50</text>
<text x="447.3" y="990.4" font-size="10" fill="#222" text-anchor="end" font-weight="normal" textLength="8.25" lengthAdjust="spacingAndGlyphs" stroke="#222" stroke-width="0.25" >40</text>
<text x="452.35" y="1018.6" font-size="9.8" fill="#222" text-anchor="middle" font-weight="normal" textLength="8" lengthAdjust="spacingAndGlyphs" stroke="#222" stroke-width="0.25" >85</text>
<text x="472" y="1018.6" font-size="9.8" fill="#222" text-anchor="middle" font-weight="normal" textLength="8" lengthAdjust="spacingAndGlyphs" stroke="#222" stroke-width="0.25" >95</text>
<text x="493.4" y="1018.6" font-size="9.8" fill="#222" text-anchor="middle" font-weight="normal" textLength="11" lengthAdjust="spacingAndGlyphs" stroke="#222" stroke-width="0.25" >100</text>
<text x="514.7" y="1018.6" font-size="9.8" fill="#222" text-anchor="middle" font-weight="normal" textLength="11" lengthAdjust="spacingAndGlyphs" stroke="#222" stroke-width="0.25" >115</text>
<text x="536.4" y="1018.6" font-size="9.8" fill="#222" text-anchor="middle" font-weight="normal" textLength="11" lengthAdjust="spacingAndGlyphs" stroke="#222" stroke-width="0.25" >120</text>
<text x="557.4" y="1018.6" font-size="9.8" fill="#222" text-anchor="middle" font-weight="normal" textLength="11" lengthAdjust="spacingAndGlyphs" stroke="#222" stroke-width="0.25" >140</text>
<text x="578.5" y="1018.6" font-size="9.8" fill="#222" text-anchor="middle" font-weight="normal" textLength="11" lengthAdjust="spacingAndGlyphs" stroke="#222" stroke-width="0.25" >160</text>
<text x="599.5" y="1018.6" font-size="9.8" fill="#222" text-anchor="middle" font-weight="normal" textLength="11" lengthAdjust="spacingAndGlyphs" stroke="#222" stroke-width="0.25" >180</text>
<text x="621.5" y="1018.6" font-size="9.8" fill="#222" text-anchor="middle" font-weight="normal" textLength="11" lengthAdjust="spacingAndGlyphs" stroke="#222" stroke-width="0.25" >200</text>
<text x="642.5" y="1018.6" font-size="9.8" fill="#222" text-anchor="middle" font-weight="normal" textLength="11" lengthAdjust="spacingAndGlyphs" stroke="#222" stroke-width="0.25" >220</text>
<text x="663.5" y="1018.6" font-size="9.8" fill="#222" text-anchor="middle" font-weight="normal" textLength="11" lengthAdjust="spacingAndGlyphs" stroke="#222" stroke-width="0.25" >240</text>
<text x="685" y="1018.6" font-size="9.8" fill="#222" text-anchor="middle" font-weight="normal" textLength="11" lengthAdjust="spacingAndGlyphs" stroke="#222" stroke-width="0.25" >264</text>
<path d="M452.4 891L492.4 850.75H683.75" fill="none" stroke="#231815" stroke-width="2.7" stroke-linejoin="miter"/>
<text x="0" y="0" transform="translate(426.8 963.5) rotate(-90)" font-size="10" fill="#222" text-anchor="middle" font-weight="normal" textLength="27" lengthAdjust="spacingAndGlyphs" stroke="#222" stroke-width="0.3">LOAD</text>
<text x="0" y="0" transform="translate(453.5 969.5) rotate(-90)" font-size="9" fill="#222" text-anchor="middle" font-weight="normal" textLength="15" lengthAdjust="spacingAndGlyphs" stroke="#222" stroke-width="0.3">(%)</text>
<text x="521.6" y="1038.8" font-size="10" fill="#1a1a1a" text-anchor="start" font-weight="normal" textLength="129.6" lengthAdjust="spacingAndGlyphs" stroke="#1a1a1a" stroke-width="0.25" >INPUT VOLTAGE(VAC)60Hz</text>
</svg>
</body></html>
